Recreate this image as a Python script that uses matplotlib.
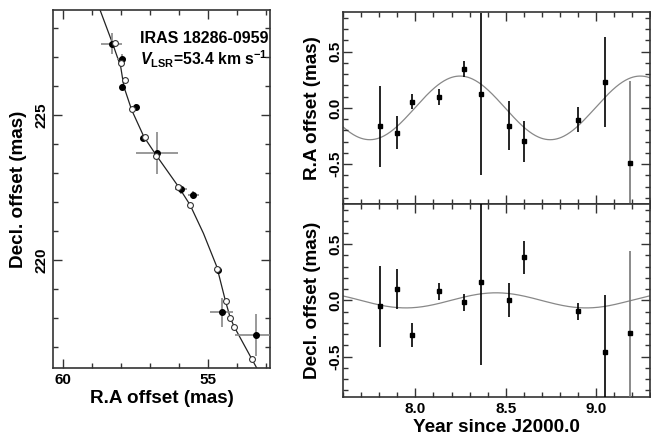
import numpy as np
import matplotlib
matplotlib.use("Agg")
import matplotlib.pyplot as plt
from matplotlib.ticker import MultipleLocator

plt.rcParams['font.family'] = ['Liberation Sans', 'DejaVu Sans']
plt.rcParams['font.weight'] = 'bold'
plt.rcParams['mathtext.fontset'] = 'custom'
plt.rcParams['mathtext.rm'] = 'Liberation Sans:bold'
plt.rcParams['mathtext.bf'] = 'Liberation Sans:bold'
plt.rcParams['mathtext.it'] = 'Liberation Sans:italic:bold'
plt.rcParams['mathtext.bfit'] = 'Liberation Sans:italic:bold'

# ---------------- data ----------------
epochs = [7.806, 7.90, 7.98, 8.131, 8.271, 8.365, 8.52, 8.603, 8.90, 9.05, 9.19]
ra_res = [-0.165, -0.22, 0.056, 0.10, 0.345, 0.12, -0.157, -0.298, -0.106, 0.227, -0.49]
ra_err = [0.36, 0.15, 0.07, 0.07, 0.07, 0.72, 0.22, 0.18, 0.11, 0.40, 0.73]
dec_res = [-0.053, 0.101, -0.308, 0.08, -0.018, 0.16, 0.006, 0.382, -0.098, -0.459, -0.29]
dec_err = [0.36, 0.18, 0.107, 0.075, 0.075, 0.73, 0.15, 0.145, 0.074, 0.51, 0.73]

# measured positions (mas)
pos_ra = [58.31, 57.97, 57.94, 57.47, 57.24, 56.74, 55.92, 55.50, 54.66, 54.52, 53.33]
pos_dec = [227.45, 226.93, 225.96, 225.29, 224.20, 223.70, 222.44, 222.24, 219.66, 218.20, 217.41]

# model positions (open circles)
mod_ra = [58.20, 58.00, 57.85, 57.62, 57.16, 56.78, 56.01, 55.61, 54.69, 54.37, 54.23, 54.09, 53.48]
mod_dec = [227.47, 226.80, 226.21, 225.20, 224.25, 223.59, 222.51, 221.90, 219.69, 218.60, 218.02, 217.70, 216.58]

# model track
track_ra = [58.71, 58.28, 58.00, 57.89, 57.62, 57.20, 56.78, 56.01, 55.61, 55.15, 54.69, 54.40, 54.23, 54.09, 53.48, 53.31]
track_dec = [228.62, 227.47, 226.67, 225.98, 225.17, 224.25, 223.62, 222.53, 221.90, 220.92, 219.77, 218.62, 218.02, 217.70, 216.58, 216.27]

# parallax model parameters
ra_amp, ra_peak = 0.283, 8.247
dec_amp, dec_peak = 0.067, 8.447
period = 1.0

# ---------------- figure ----------------
fig = plt.figure(figsize=(6.51, 4.38), dpi=100)
axL = fig.add_axes([0.0814, 0.1598, 0.3333, 0.8174])
axT = fig.add_axes([0.5273, 0.5342, 0.4711, 0.4390])
axB = fig.add_axes([0.5273, 0.0943, 0.4711, 0.4399])

LAB = 13.6
TCK = 11

def style(ax, ypad):
    for s in ax.spines.values():
        s.set_linewidth(1.2)
        s.set_color('#333333')
    ax.tick_params(which='both', direction='in', top=True, right=True,
                   labelsize=TCK, width=1.0, color='#333333')
    ax.tick_params(which='major', length=6.5)
    ax.tick_params(which='minor', length=3.6)
    ax.tick_params(axis='y', pad=ypad)

# Left panel
axL.plot(track_ra, track_dec, color='#222222', lw=0.9, zorder=1)
axL.errorbar(pos_ra, pos_dec, xerr=ra_err, yerr=dec_err, fmt='o', color='black',
             ms=4, ecolor='#888888', elinewidth=1.2, capsize=0, zorder=3)
axL.plot(mod_ra, mod_dec, 'o', ms=4.2, mfc='white', mec='#333333', mew=0.8, zorder=4)
axL.set_xlim(60.33, 52.86)
axL.set_ylim(216.28, 228.62)
axL.xaxis.set_major_locator(MultipleLocator(5))
axL.xaxis.set_minor_locator(MultipleLocator(1))
axL.yaxis.set_major_locator(MultipleLocator(5))
axL.yaxis.set_minor_locator(MultipleLocator(1))
style(axL, 3.5)
axL.set_xticks([60, 55], ['60', '55'])
for lab in axL.get_yticklabels():
    lab.set_rotation(90)
    lab.set_va('center')
axL.set_xlabel('R.A offset (mas)', fontsize=LAB, fontweight='bold', labelpad=2)
axL.set_ylabel('Decl. offset (mas)', fontsize=LAB, fontweight='bold', labelpad=5)
axL.text(0.40, 0.907, 'IRAS 18286-0959', transform=axL.transAxes,
         fontsize=11.5, fontweight='bold', ha='left', va='baseline')
axL.text(0.40, 0.846, r'$\mathbfit{V}_{\mathbf{LSR}}$=53.4 km s$^{\mathbf{-1}}$',
         transform=axL.transAxes, fontsize=11.3, fontweight='bold', ha='left', va='baseline')

# Right panels
t = np.linspace(7.6, 9.3, 400)
ra_model = ra_amp * np.cos(2 * np.pi * (t - ra_peak) / period)
dec_model = dec_amp * np.cos(2 * np.pi * (t - dec_peak) / period)

ecol = ['black'] * 10 + ['#777777']
for ax, res, err, model, lab in [(axT, ra_res, ra_err, ra_model, 'R.A offset (mas)'),
                                 (axB, dec_res, dec_err, dec_model, 'Decl. offset (mas)')]:
    ax.plot(t, model, color='#888888', lw=0.9, zorder=1)
    for x, y, e, c in zip(epochs, res, err, ecol):
        ax.errorbar([x], [y], yerr=[e], fmt='s', color='black', ms=2.5,
                    ecolor=c, elinewidth=1.2, capsize=0, zorder=3)
    ax.set_xlim(7.6, 9.3)
    ax.set_ylim(-0.855, 0.855)
    ax.xaxis.set_major_locator(MultipleLocator(0.5))
    ax.xaxis.set_minor_locator(MultipleLocator(0.1))
    ax.yaxis.set_major_locator(MultipleLocator(0.5))
    ax.yaxis.set_minor_locator(MultipleLocator(0.1))
    style(ax, 1.0)
    ax.set_yticks([-0.5, 0.0, 0.5], ['-0.5', '0.0', '0.5'])
    for tl in ax.get_yticklabels():
        tl.set_rotation(90)
        tl.set_va('center')
    ax.set_ylabel(lab, fontsize=LAB, fontweight='bold', labelpad=5)

axT.tick_params(labelbottom=False)
axB.set_xticks([8.0, 8.5, 9.0], ['8.0', '8.5', '9.0'])
axB.set_xlabel('Year since J2000.0', fontsize=LAB, fontweight='bold', labelpad=2.5)

fig.savefig('out.png', dpi=100)
